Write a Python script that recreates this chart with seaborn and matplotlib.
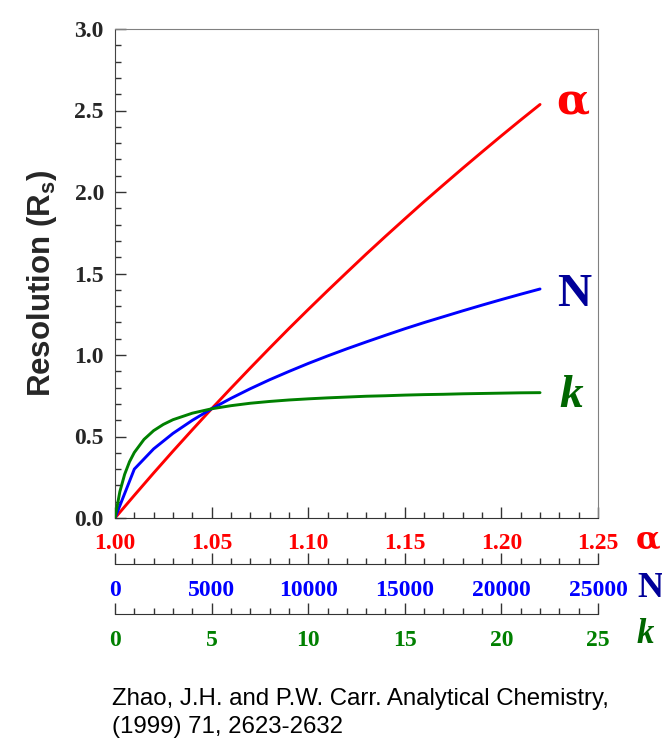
import matplotlib
matplotlib.use("Agg")
import matplotlib.pyplot as plt
import seaborn as sns
from matplotlib.ticker import MultipleLocator, FormatStrFormatter

sns.set_style("ticks")
plt.rcParams["font.family"] = ["Liberation Serif", "DejaVu Serif"]

# ----- data -----
alpha_vals = [1.00, 1.01, 1.02, 1.03, 1.04, 1.05, 1.06, 1.07, 1.08, 1.09, 1.10, 1.11,
              1.12, 1.13, 1.14, 1.15, 1.16, 1.17, 1.18, 1.19, 1.20, 1.21, 1.22]
rs_alpha = [0.0, 0.139, 0.276, 0.410, 0.541, 0.670, 0.796, 0.920, 1.042, 1.162, 1.279, 1.394,
            1.507, 1.619, 1.728, 1.835, 1.941, 2.044, 2.146, 2.246, 2.345, 2.442, 2.537]

n_vals = [0, 1000, 2000, 3000, 4000, 5000, 6000, 7000, 8000, 9000, 10000, 11000,
          12000, 13000, 14000, 15000, 16000, 17000, 18000, 19000, 20000, 21000, 22000]
rs_n = [0.0, 0.300, 0.424, 0.519, 0.599, 0.670, 0.734, 0.793, 0.848, 0.899, 0.948, 0.994,
        1.038, 1.080, 1.121, 1.161, 1.199, 1.235, 1.271, 1.306, 1.340, 1.373, 1.405]

k_vals = [0, 0.25, 0.5, 0.75, 1, 1.5, 2, 2.5, 3, 4, 5, 6, 7, 8, 9, 10, 11,
          12, 13, 14, 15, 16, 17, 18, 19, 20, 21, 22]
rs_k = [0.0, 0.161, 0.268, 0.345, 0.402, 0.482, 0.536, 0.574, 0.603, 0.643, 0.670, 0.689,
        0.704, 0.715, 0.724, 0.731, 0.737, 0.742, 0.747, 0.750, 0.754, 0.757, 0.759,
        0.762, 0.764, 0.766, 0.768, 0.769]

citation = ["Zhao, J.H. and P.W. Carr. Analytical Chemistry,", "(1999) 71, 2623-2632"]

RED, BLUE, GREEN = "#ff0000", "#0000ff", "#008000"
NAVY, DKGREEN = "#000099", "#006600"
tick_font = dict(family="Liberation Serif", weight="bold", size=17)

fig = plt.figure(figsize=(6.62, 7.40), dpi=100)
ax = fig.add_axes([115 / 662, 1 - 518 / 740, 483 / 662, 489 / 740])
ax_n = ax.twiny()
ax_k = ax.twiny()

sns.lineplot(x=alpha_vals, y=rs_alpha, ax=ax, color=RED, lw=2.1)
sns.lineplot(x=n_vals, y=rs_n, ax=ax_n, color=BLUE, lw=2.1)
sns.lineplot(x=k_vals, y=rs_k, ax=ax_k, color=GREEN, lw=2.1)

ax.set_ylim(0, 3.0)
ax.set_xlim(1.0, 1.25)
ax_n.set_xlim(0, 25000)
ax_k.set_xlim(0, 25)

# main axes: y axis + alpha axis on the bottom spine
ax.yaxis.set_major_locator(MultipleLocator(0.5))
ax.yaxis.set_minor_locator(MultipleLocator(0.1))
ax.yaxis.set_major_formatter(FormatStrFormatter("%.1f"))
ax.xaxis.set_major_locator(MultipleLocator(0.05))
ax.xaxis.set_minor_locator(MultipleLocator(0.01))
ax.xaxis.set_major_formatter(FormatStrFormatter("%.2f"))
ax.tick_params(which="both", direction="in", width=1, color="#333333")
ax.tick_params(which="major", length=8)
ax.tick_params(which="minor", length=4.5)
ax.tick_params(axis="y", pad=8, right=False)
ax.tick_params(axis="x", pad=11, top=False, labelcolor=RED)
for spine in ["top", "right"]:
    ax.spines[spine].set_color("#808080")
ax.spines["left"].set_color("#444444")
ax.spines["bottom"].set_color("#333333")
for lab in ax.get_xticklabels() + ax.get_yticklabels():
    lab.set_fontproperties(tick_font)

# extra N and k axes stacked below
for twin, offset, major, minor, col, pad in [(ax_n, 33, 5000, 1000, BLUE, 12),
                                             (ax_k, 69, 5, 1, GREEN, 12)]:
    for spine in ["top", "left", "right"]:
        twin.spines[spine].set_visible(False)
    twin.spines["bottom"].set_visible(True)
    twin.spines["bottom"].set_position(("outward", offset))
    twin.spines["bottom"].set_color("#333333")
    twin.xaxis.set_ticks_position("bottom")
    twin.xaxis.set_label_position("bottom")
    twin.xaxis.set_major_locator(MultipleLocator(major))
    twin.xaxis.set_minor_locator(MultipleLocator(minor))
    twin.xaxis.set_major_formatter(FormatStrFormatter("%d"))
    twin.tick_params(which="both", direction="in", width=1, color="#333333",
                     pad=pad, labelcolor=col, top=False)
    twin.tick_params(which="major", length=8)
    twin.tick_params(which="minor", length=4.5)
    for lab in twin.get_xticklabels():
        lab.set_fontproperties(tick_font)

ax.set_ylabel("Resolution (R$_\\mathregular{s}$)", family="Liberation Sans",
              weight="bold", size=22.5)
ax.yaxis.label.set_verticalalignment("center")
ax.yaxis.set_label_coords(-0.151, 0.48)
ax.set_xlabel("")
ax_n.set_xlabel("")
ax_k.set_xlabel("")

# curve labels at line ends
big = dict(weight="bold", va="baseline", ha="left")
ax.annotate("α", xy=(alpha_vals[-1], rs_alpha[-1]), xytext=(12, -7),
            textcoords="offset points", color=RED, family="DejaVu Serif", size=31, **big)
ax_n.annotate("N", xy=(n_vals[-1], rs_n[-1]), xytext=(12, -12),
              textcoords="offset points", color=NAVY, family="Liberation Serif", size=34, **big)
ax_k.annotate("k", xy=(k_vals[-1], rs_k[-1]), xytext=(14, -10),
              textcoords="offset points", color=DKGREEN, style="italic",
              family="Liberation Serif", size=34, **big)

# axis names at right of each scale
side = dict(weight="bold", va="baseline", ha="left")
fig.text(636 / 662, 1 - 548 / 740, "α", color=RED, size=23, family="DejaVu Serif", **side)
fig.text(637 / 662, 1 - 597 / 740, "N", color=NAVY, size=26, family="Liberation Serif", **side)
fig.text(637 / 662, 1 - 643 / 740, "k", color=DKGREEN, size=25, style="italic",
         family="Liberation Serif", **side)

for i, line in enumerate(citation):
    fig.text(112 / 662, 1 - (705 + 28 * i) / 740, line, family="Liberation Sans",
             size=17.3, va="baseline", ha="left", color="black")

fig.savefig("out.png", dpi=100)
